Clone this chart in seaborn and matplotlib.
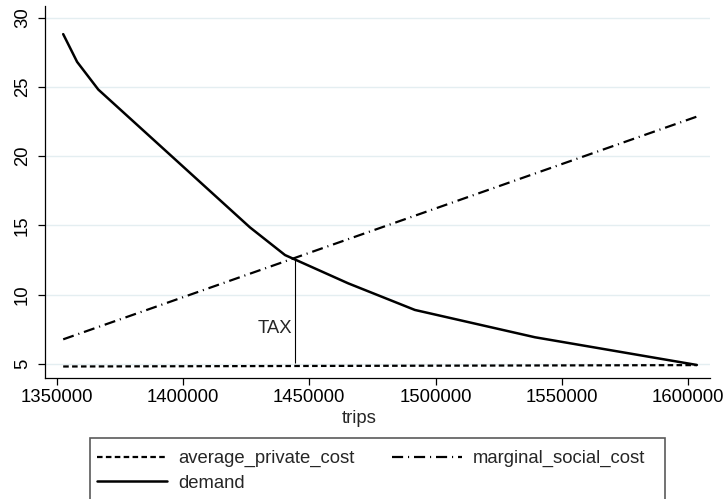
import matplotlib
matplotlib.use("Agg")
import matplotlib.pyplot as plt
from matplotlib.lines import Line2D
from matplotlib.patches import Rectangle
import seaborn as sns

# Demand curve (trips vs. price)
demand_trips = [1352600, 1358100, 1366500, 1426500, 1440400, 1465400, 1491800, 1539300, 1603400]
demand_price = [28.8, 26.8, 24.8, 14.86, 12.86, 10.82, 8.9, 6.93, 4.93]

# Cost curves
apc_trips = [1352600, 1603400]
apc_price = [4.82, 4.92]
msc_trips = [1352600, 1603400]
msc_price = [6.78, 22.85]

# Tax wedge at the equilibrium
tax_trips = 1444300
tax_low = 5.1
tax_high = 12.63
tax_label = "TAX"

x_ticks = [1350000, 1400000, 1450000, 1500000, 1550000, 1600000]
y_ticks = [5, 10, 15, 20, 25, 30]
x_title = "trips"
legend_labels = ["average_private_cost", "demand", "marginal_social_cost"]

sns.set_style("white")
plt.rcParams["font.family"] = ["Liberation Sans", "DejaVu Sans"]
FS = 13.3

W, H = 724, 499
fig = plt.figure(figsize=(W / 100, H / 100), dpi=100)
ax = fig.add_axes([45 / W, 1 - 378 / H, 665 / W, 372 / H])

lw_curve = 1.6
apc_style = dict(dashes=(2.5, 1.5))
msc_style = dict(dashes=(5, 2.2, 0.5, 2.2))

sns.lineplot(x=apc_trips, y=apc_price, ax=ax, color="black", lw=lw_curve, **apc_style)
sns.lineplot(x=msc_trips, y=msc_price, ax=ax, color="black", lw=lw_curve, **msc_style)
sns.lineplot(x=demand_trips, y=demand_price, ax=ax, color="black", lw=1.8, sort=False)

ax.vlines(tax_trips, tax_low, tax_high, color="black", lw=0.8)
ax.annotate(tax_label, xy=(tax_trips, 7.56), xytext=(-3, 0), textcoords="offset pixels",
            ha="right", va="center", fontsize=FS)

ax.set_xlim(1345400, 1608600)
ax.set_ylim(3.99, 30.83)
ax.set_xticks(x_ticks)
ax.set_xticklabels([str(t) for t in x_ticks])
ax.set_yticks(y_ticks)
ax.set_yticklabels([str(t) for t in y_ticks])
plt.setp(ax.get_yticklabels(), rotation=90, va="center")

ax.yaxis.grid(True, color="#e4eef1", lw=1.0)
ax.xaxis.grid(False)
ax.set_axisbelow(True)

for side in ("top", "right"):
    ax.spines[side].set_visible(False)
for side in ("left", "bottom"):
    ax.spines[side].set_color("black")
    ax.spines[side].set_linewidth(0.9)

ax.tick_params(axis="both", which="major", direction="out", length=5, width=0.9,
               color="black", labelsize=FS, labelcolor="black", left=True, bottom=True)
ax.tick_params(axis="y", pad=5)
ax.tick_params(axis="x", pad=3)

ax.set_xlabel(x_title, fontsize=FS)
ax.xaxis.set_label_coords((359 - 45) / 665, (378 - 410) / 372)
ax.set_ylabel("")

# Legend frame and entries
fig.add_artist(Rectangle((90 / W, (H - 510) / H), 575 / W, (510 - 438) / H,
                         transform=fig.transFigure, fill=False,
                         edgecolor="#5a5a5a", lw=1.2, clip_on=False))
handles = [
    Line2D([], [], color="black", lw=lw_curve, **apc_style),
    Line2D([], [], color="black", lw=1.8),
    Line2D([], [], color="black", lw=lw_curve, **msc_style),
]
fig.legend(handles, legend_labels, loc="upper left", bbox_to_anchor=(97 / W, 1 - 450 / H),
           ncol=2, frameon=False, fontsize=FS, handlelength=3.8, handletextpad=0.6,
           columnspacing=2.0, borderaxespad=0, borderpad=0, labelspacing=0.42)

fig.savefig("out.png", dpi=100)
